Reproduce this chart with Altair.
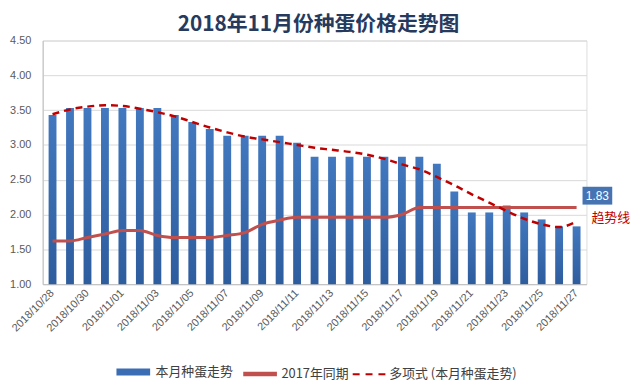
import altair as alt
import pandas as pd

dates = [
    "2018/10/28", "2018/10/29", "2018/10/30", "2018/10/31", "2018/11/01",
    "2018/11/02", "2018/11/03", "2018/11/04", "2018/11/05", "2018/11/06",
    "2018/11/07", "2018/11/08", "2018/11/09", "2018/11/10", "2018/11/11",
    "2018/11/12", "2018/11/13", "2018/11/14", "2018/11/15", "2018/11/16",
    "2018/11/17", "2018/11/18", "2018/11/19", "2018/11/20", "2018/11/21",
    "2018/11/22", "2018/11/23", "2018/11/24", "2018/11/25", "2018/11/26",
    "2018/11/27",
]
prices = [3.43, 3.53, 3.53, 3.53, 3.53, 3.53, 3.53, 3.43, 3.33, 3.23,
          3.13, 3.13, 3.13, 3.13, 3.03, 2.83, 2.83, 2.83, 2.83, 2.83,
          2.83, 2.83, 2.73, 2.33, 2.03, 2.03, 2.13, 2.03, 1.93, 1.83,
          1.83]
last_year = [1.62, 1.62, 1.67, 1.72, 1.77, 1.77, 1.70, 1.67, 1.67, 1.67,
             1.70, 1.74, 1.86, 1.92, 1.96, 1.96, 1.96, 1.96, 1.96, 1.96,
             2.00, 2.10, 2.10, 2.10, 2.10, 2.10, 2.10, 2.10, 2.10, 2.10,
             2.10]
trend = [3.44, 3.51, 3.55, 3.57, 3.56, 3.52, 3.47, 3.41, 3.33, 3.25,
         3.18, 3.12, 3.08, 3.04, 3.00, 2.96, 2.93, 2.90, 2.86, 2.80,
         2.72, 2.65, 2.54, 2.42, 2.29, 2.17, 2.05, 1.94, 1.86, 1.82,
         1.90]
tick_dates = dates[::2]
y_ticks = [1.0, 1.5, 2.0, 2.5, 3.0, 3.5, 4.0, 4.5]
series_names = ["本月种蛋走势", "2017年同期", "多项式 (本月种蛋走势)"]
series_colors = ["#3A6DB3", "#C0504D", "#C00000"]
title_text = "2018年11月份种蛋价格走势图"
trend_label = "趋势线"

df = pd.DataFrame({"date": dates, "price": prices, "ly": last_year, "trend": trend})
legend_df = pd.DataFrame({"series": series_names})

x_axis = alt.Axis(values=tick_dates, labelAngle=-45, labelAlign="right",
                  labelBaseline="middle", labelPadding=7, labelFontSize=11,
                  labelFont="Liberation Sans", labelColor="#595959",
                  labelOverlap=False,
                  ticks=False, grid=False, domain=True, domainColor="#BFBFBF")
x_scale = alt.Scale(paddingInner=0.55, paddingOuter=0.34)
y_scale = alt.Scale(domain=[1.0, 4.5], nice=False, zero=False)
y_axis = alt.Axis(values=y_ticks, format=".2f", labelFontSize=11,
                  labelFont="Liberation Sans", labelColor="#595959",
                  labelOverlap=False, labelPadding=12, ticks=False,
                  grid=True, gridColor="#D9D9D9", tickCount=8,
                  domain=True, domainColor="#BFBFBF")


def xe():
    return alt.X("date:N", sort=dates, title=None, scale=x_scale, axis=x_axis)


def ye(field):
    return alt.Y(field, type="quantitative", scale=y_scale, axis=y_axis, title=None)


gradient = alt.LinearGradient(
    gradient="linear",
    stops=[alt.GradientStop(color="#4278BF", offset=0),
           alt.GradientStop(color="#2E5D9E", offset=1)],
    x1=0, x2=0, y1=0, y2=1,
)

bars = alt.Chart(df).mark_bar(color=gradient).encode(
    x=xe(), y=ye("price"), y2=alt.Y2(datum=1.0),
)

ly_line = alt.Chart(df).mark_line(
    color="#C0504D", strokeWidth=3, interpolate="monotone"
).encode(x=xe(), y=ye("ly"))

trend_line = alt.Chart(df).mark_line(
    color="#C00000", strokeWidth=2.5, strokeDash=[7, 5], interpolate="monotone"
).encode(x=xe(), y=ye("trend"))

last = df.tail(1)
label_box = alt.Chart(last).mark_point(
    shape="M-1,-0.6H1V0.6H-1Z", size=900, filled=True, opacity=1,
    color="#4674B3", xOffset=21, yOffset=-31
).encode(x=xe(), y=ye("price"))

label_text = alt.Chart(last).mark_text(
    color="white", fontSize=12, font="Liberation Sans", align="center",
    baseline="middle", xOffset=21, yOffset=-31
).encode(x=xe(), y=ye("price"), text=alt.Text("price:Q", format=".2f"))

trend_text = alt.Chart(last).mark_text(
    text=trend_label, color="#C00000", fontSize=13, font="Noto Sans CJK SC",
    align="left", baseline="middle", xOffset=15, yOffset=-8
).encode(x=xe(), y=ye("price"))

leg = dict(title=None, orient="none", legendX=71, legendY=314,
           direction="horizontal", symbolType="stroke", symbolSize=1156,
           labelFont="Noto Sans CJK SC", labelFontSize=13, labelColor="#404040",
           columnPadding=0, labelOffset=2, padding=0, symbolOpacity=1)

legend_layer = alt.Chart(legend_df).transform_filter("false").mark_point().encode(
    color=alt.Color("series:N", sort=series_names,
                    scale=alt.Scale(domain=series_names, range=series_colors),
                    legend=alt.Legend(**leg)),
    strokeDash=alt.StrokeDash("series:N", sort=series_names,
                              scale=alt.Scale(domain=series_names,
                                              range=[[1, 0], [1, 0], [7, 6]]),
                              legend=alt.Legend(**leg)),
    strokeWidth=alt.StrokeWidth("series:N", sort=series_names,
                                scale=alt.Scale(domain=series_names,
                                                range=[7, 2, 3]),
                                legend=alt.Legend(**leg)),
)

chart = alt.layer(
    bars, ly_line, trend_line, label_box, label_text, trend_text, legend_layer
).properties(
    width=549, height=246,
    title=alt.Title(title_text, fontSize=21, font="Noto Sans CJK SC",
                    fontWeight="bold", color="#263A5E", anchor="middle",
                    offset=0, dx=4),
    autosize=alt.AutoSizeParams(type="none"),
    padding={"left": 35, "top": 31, "right": 48, "bottom": 100},
).configure_view(stroke=None).configure(background="white")

chart.save("out.html", embed_options={"renderer": "svg", "actions": False})
